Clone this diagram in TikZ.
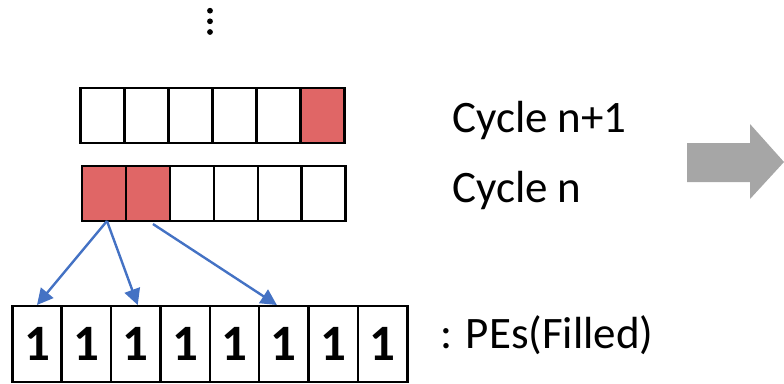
\documentclass[tikz,border=0pt]{standalone}
\usepackage{fontspec}
\setmainfont{Carlito}
\usetikzlibrary{arrows.meta}

\definecolor{redcell}{HTML}{E06666}
\definecolor{linkblue}{HTML}{4472C4}
\definecolor{arrowgray}{HTML}{A6A6A6}

\tikzset{
  cell/.style={draw, line width=2.5pt, inner sep=0pt, outer sep=0pt,
    minimum width=43.9pt, minimum height=55pt},
  pecell/.style={cell, minimum width=49.4pt, minimum height=76pt, font=\fontsize{51}{60}\selectfont\bfseries},
  link/.style={draw=linkblue, line width=2.4pt, -{Triangle[length=16pt,width=16pt]}},
  note/.style={anchor=base west, inner sep=0pt}
}

\begin{document}
\begin{tikzpicture}[x=1pt, y=-1pt, font=\fontsize{45}{54}\selectfont]
\useasboundingbox (0,0) rectangle (784,383);

% dots above the rows
\foreach \y in {10.7,21.3,32}
  \fill (210,\y) circle [radius=2.9pt];

% cycle n+1 (upper) and cycle n (lower)
\foreach \i/\up/\low in {1/white/redcell, 2/white/redcell, 3/white/white,
                         4/white/white, 5/white/white, 6/redcell/white} {
  \node[cell, fill=\up] (next\i) at (80.7+43.93*\i-21.97, 115.5) {};
  \node[cell, fill=\low] (now\i) at (82+43.95*\i-21.97, 193.5) {};
}

% PE row
\foreach \i in {1,...,8}
  \node[pecell] (pe\i) at (12.3+49.375*\i-24.69, 344) {\raisebox{-2pt}{1}};

\draw[link] ([xshift=3pt]now1.south) -- ([yshift=1pt]pe1.north);
\draw[link] ([xshift=3pt]now1.south) -- ([xshift=2pt,yshift=1pt]pe3.north);
\draw[link] ([xshift=5pt,yshift=-3pt]now2.south) -- ([xshift=-7pt,yshift=1pt]pe6.north);

\node[note] (cyclenext) at (452,132) {Cycle n+1};
\node[note] (cyclenow) at (452,202) {Cycle n};
\node[note] (pes) at (440,348) {: PEs(Filled)};

% big gray arrow
\fill[arrowgray] (687,143) -- (750,143) -- (750,124) -- (784,162)
  -- (750,199) -- (750,182) -- (687,182) -- cycle;
\end{tikzpicture}
\end{document}
